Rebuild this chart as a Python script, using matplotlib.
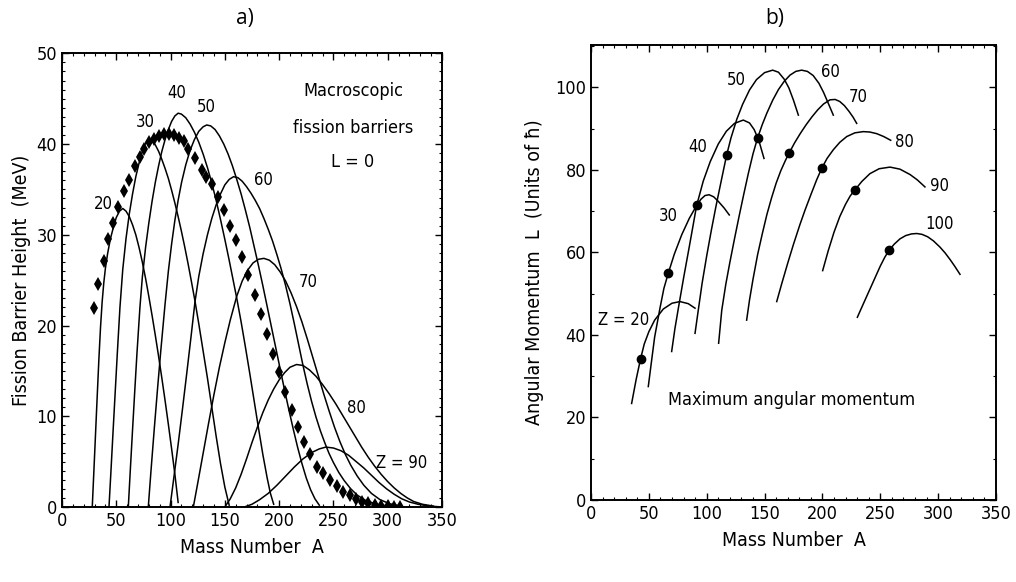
import matplotlib
matplotlib.use("Agg")
import matplotlib.pyplot as plt
from matplotlib.ticker import MultipleLocator
from matplotlib import font_manager

# ---------------- data: panel a) macroscopic fission barriers (L = 0) ----------------
z20_A = [27.9, 30, 32, 34, 35.5, 37, 38.5, 40, 42, 44.5, 47.3, 50, 53, 56, 59, 62, 65, 68, 71, 74,
         77, 80, 83, 86, 89, 92, 95, 98, 101, 104, 107]
z20_B = [0, 5.6, 11.0, 16.3, 19.8, 22.6, 24.7, 26.3, 27.9, 29.5, 30.8, 31.9, 32.6, 32.9, 32.6, 32.0,
         31.1, 30.0, 28.6, 27.0, 25.2, 23.2, 21.1, 18.9, 16.6, 14.2, 11.7, 9.1, 6.4, 3.6, 0.5]

z30_A = [43.3, 45, 47, 49, 51, 53.4, 56, 59, 62, 65, 68, 71, 74, 77, 80, 83, 86, 89, 92, 95, 98,
         101, 104, 107, 110, 113, 116, 119, 122.5, 126, 130, 134, 138, 142, 146, 150, 154]
z30_B = [0, 3.7, 8.2, 12.6, 17.0, 22.0, 26.2, 29.6, 32.3, 34.5, 36.4, 37.9, 39.2, 40.1, 40.5, 40.4,
         39.9, 39.2, 38.3, 37.3, 36.2, 34.9, 33.5, 32.0, 30.4, 28.7, 26.9, 25.0, 22.7, 20.2, 17.2,
         14.2, 11.0, 7.8, 4.8, 2.2, 0.2]

z40_A = [61.1, 63, 65, 67, 69, 71.8, 74, 77, 80, 83, 86, 89, 92, 95, 98, 101, 104, 107, 110, 114,
         118, 122, 126, 130, 134, 138, 142, 146, 150, 154, 158, 161, 165, 169, 173, 177, 181, 185,
         189, 192, 195]
z40_B = [0, 4.2, 8.5, 12.7, 16.8, 22.0, 25.3, 28.6, 31.3, 33.7, 35.8, 37.6, 39.2, 40.5, 41.6, 42.5,
         43.1, 43.4, 43.3, 42.9, 42.2, 41.3, 40.2, 38.9, 37.4, 35.7, 33.8, 31.7, 29.5, 27.2, 24.8,
         23.0, 20.4, 17.6, 14.7, 11.7, 8.7, 5.8, 3.2, 1.5, 0.3]

z50_A = [79.5, 82, 85, 88, 91, 94.9, 98, 101, 104, 107, 110.2, 114, 118, 122, 126, 130, 133.3, 137,
         141, 145, 149, 153, 157, 161, 165, 169, 173, 177, 181, 185, 189, 193, 197, 201, 205, 209,
         213, 217, 221, 225, 229, 233, 237]
z50_B = [0, 4.0, 8.6, 13.0, 17.2, 22.3, 26.0, 29.0, 31.6, 33.8, 35.8, 37.7, 39.3, 40.5, 41.4, 41.9,
         42.1, 42.0, 41.6, 40.9, 40.0, 38.9, 37.6, 36.1, 34.5, 32.7, 30.8, 28.7, 26.6, 24.4, 22.1,
         19.8, 17.5, 15.2, 12.9, 10.7, 8.6, 6.6, 4.8, 3.2, 1.9, 0.9, 0.2]

z60_A = [99.5, 103, 107, 111, 115, 119, 122.5, 126, 130, 134, 138, 142, 146, 150, 154, 158, 162,
         166, 170, 174, 178, 182, 186, 190, 194, 198, 202, 206, 210, 214, 218, 222, 226, 230, 234,
         238, 242, 246, 250, 255, 260, 266, 272, 280, 290, 300]
z60_B = [0, 3.2, 6.9, 10.8, 14.8, 18.9, 22.6, 25.4, 27.9, 30.0, 31.8, 33.3, 34.5, 35.5, 36.1, 36.4,
         36.3, 35.9, 35.3, 34.6, 33.8, 32.9, 31.8, 30.6, 29.3, 27.8, 26.2, 24.4, 22.4, 20.2, 17.9,
         15.6, 13.5, 11.6, 9.9, 8.4, 7.1, 5.9, 4.9, 3.8, 2.9, 2.0, 1.3, 0.7, 0.3, 0.1]

z70_A = [121, 125, 130, 135, 140, 145, 150, 155, 160.9, 166, 171, 176, 181, 186, 191, 196, 201,
         206, 211, 216, 221, 226, 231, 236, 241, 246, 251, 256, 261, 266, 272, 278, 285, 293, 302, 312]
z70_B = [0, 2.6, 5.9, 9.2, 12.4, 15.4, 18.1, 20.6, 23.2, 24.9, 26.1, 26.9, 27.3, 27.4, 27.2, 26.7,
         25.9, 24.9, 23.6, 22.1, 20.4, 18.5, 16.5, 14.5, 12.5, 10.6, 8.8, 7.2, 5.8, 4.6, 3.4, 2.4,
         1.5, 0.8, 0.35, 0.1]

z80_A = [150, 155, 160, 165, 170, 175, 180, 185, 190, 195, 200, 205, 210, 216, 222, 228, 234, 240,
         246, 252, 258, 264, 270, 276, 282, 288, 294, 300, 306, 312, 318, 324, 332, 342]
z80_B = [0, 0.9, 2.1, 3.6, 5.3, 7.1, 8.8, 10.4, 11.8, 13.0, 14.0, 14.8, 15.4, 15.7, 15.6, 15.1,
         14.4, 13.5, 12.5, 11.4, 10.2, 9.0, 7.8, 6.6, 5.5, 4.5, 3.6, 2.8, 2.1, 1.5, 1.0, 0.6, 0.3, 0.1]

z90_A = [168, 175, 182, 190, 198, 206, 214, 222, 230, 237, 243, 250, 257, 264, 271, 278, 285, 292,
         299, 306, 313, 320, 328, 338, 348]
z90_B = [0, 0.3, 0.8, 1.5, 2.4, 3.4, 4.4, 5.3, 6.0, 6.4, 6.6, 6.5, 6.2, 5.7, 5.0, 4.3, 3.5, 2.7,
         2.0, 1.4, 0.9, 0.55, 0.3, 0.1, 0.02]

barrier_curves = {20: (z20_A, z20_B), 30: (z30_A, z30_B), 40: (z40_A, z40_B),
                  50: (z50_A, z50_B), 60: (z60_A, z60_B), 70: (z70_A, z70_B),
                  80: (z80_A, z80_B), 90: (z90_A, z90_B)}

diam_A = [29.5, 33.4, 38.4, 42.6, 47.4, 52, 57, 62, 67, 71.5, 76, 80.5, 85, 89.5, 94, 98.5, 103, 107.5,
          112, 116.3, 122.5, 128.7, 133, 137.9, 144, 149.5, 154.7, 160.3, 166, 171.6, 177.5, 183, 188.5,
          194.6, 200.2, 205.4, 211.6, 217.7, 223.2, 228.4, 234.6, 240, 246.5, 253, 259, 265, 271,
          276.5, 282, 288, 294, 300, 306, 311]
diam_B = [21.9, 24.6, 27.1, 29.5, 31.3, 33.1, 34.8, 36.0, 37.6, 38.6, 39.5, 40.2, 40.6, 40.9, 41.1, 41.1,
          41.0, 40.7, 40.3, 39.5, 38.5, 37.1, 36.4, 35.6, 34.2, 32.7, 31.0, 29.4, 27.6, 25.6, 23.4, 21.3,
          19.1, 16.9, 14.9, 12.7, 10.7, 8.8, 7.2, 5.8, 4.4, 3.7, 3.0, 2.3, 1.7, 1.3, 0.9, 0.6, 0.4,
          0.25, 0.15, 0.1, 0.05, 0.03]

# ---------------- data: panel b) maximum angular momentum ----------------
l20_A = [35.1, 39, 42.9, 46, 50, 55, 62.5, 70, 76.9, 84, 89.9]
l20_L = [23.4, 29.2, 34.3, 37.8, 40.8, 43.6, 46.3, 47.7, 48.1, 47.6, 46.5]
l30_A = [49.5, 52, 55, 59.6, 63, 66.8, 72, 78.4, 85, 91.3, 95, 98.5, 102, 106, 110, 115, 119.5]
l30_L = [27.5, 33, 39.5, 46.5, 51.3, 55, 59.6, 64.3, 68.3, 71.4, 72.9, 73.8, 74.0, 73.5, 72.4, 70.8, 69.1]
l40_A = [69.7, 72.5, 75.5, 80, 85, 91.3, 97, 103, 110, 117, 124, 131.6, 137, 141, 145, 149.5]
l40_L = [36, 41.5, 46.5, 53.8, 61.5, 71.4, 77.3, 82, 86.3, 89.4, 91.3, 92.1, 91.4, 89.8, 87.2, 82.8]
l50_A = [89.9, 92.7, 96, 100, 104, 108, 112.5, 117.2, 121, 126, 131, 137, 143, 150, 157, 162, 167,
         171, 175, 179.2]
l50_L = [40.4, 46, 52.5, 59.2, 65.4, 71.2, 77.3, 83.6, 87.8, 92.3, 95.9, 99.4, 101.9, 103.6, 104.2,
         103.7, 102.0, 99.9, 96.9, 93.3]
l60_A = [110.3, 113, 116.5, 120, 124, 128, 132, 136, 140, 144, 148, 152, 157, 162, 167, 172, 177,
         182, 187, 192, 197, 201, 205, 209.4]
l60_L = [38, 46, 52.3, 57.6, 63.3, 68.8, 74.1, 79.2, 83.9, 87.8, 91.0, 93.8, 96.9, 99.5, 101.5, 103.0,
         103.9, 104.2, 103.9, 102.9, 101.0, 98.8, 96.2, 93.3]
l70_A = [134.5, 137, 140, 144, 148, 152, 156, 160, 164, 168, 171.4, 176, 181, 186, 191, 196, 201,
         206.5, 211, 215, 219, 223, 226.5, 229.6]
l70_L = [43.6, 48.5, 53.5, 59.5, 64.5, 69.2, 73.2, 76.8, 79.8, 82.3, 84.2, 86.6, 88.9, 91.0, 92.9,
         94.6, 96.0, 97.0, 97.1, 96.6, 95.6, 94.2, 92.8, 91.3]
l80_A = [160.5, 165, 170, 175, 180.6, 185, 190, 195, 199.4, 204, 209.4, 215, 221, 228, 235.3, 241,
         247, 253, 259]
l80_L = [48.1, 52.6, 57.4, 62.0, 66.8, 70.3, 74.0, 77.6, 80.4, 82.8, 84.9, 86.7, 88.1, 89.0, 89.3,
         89.2, 88.8, 88.1, 87.2]
l90_A = [200.2, 205, 210, 215, 220, 224, 228.2, 234, 241, 249, 258.4, 267, 275.7, 282, 288.6]
l90_L = [55.6, 60.4, 64.9, 68.7, 71.7, 73.7, 75.2, 77.2, 79.1, 80.3, 80.7, 80.2, 78.9, 77.6, 75.9]
l100_A = [230.2, 234, 238, 242, 246, 250, 254, 257.8, 262, 267, 272, 277, 281.5, 286, 291, 296,
          301.6, 306, 310.3, 314.5, 318.9]
l100_L = [44.3, 46.7, 49.2, 51.7, 54.2, 56.7, 58.9, 60.6, 62.0, 63.3, 64.1, 64.5, 64.6, 64.4, 63.8,
          62.8, 61.3, 59.9, 58.3, 56.6, 54.7]

lmax_curves = [(l20_A, l20_L), (l30_A, l30_L), (l40_A, l40_L), (l50_A, l50_L), (l60_A, l60_L),
               (l70_A, l70_L), (l80_A, l80_L), (l90_A, l90_L), (l100_A, l100_L)]

dot_A = [42.9, 66.8, 91.3, 117.2, 144.0, 171.4, 199.4, 228.2, 257.8]
dot_L = [34.3, 55.0, 71.4, 83.6, 87.8, 84.2, 80.4, 75.2, 60.6]

# labels
a_labels = ["20", "30", "40", "50", "60", "70", "80", "Z = 90"]
a_label_pos = [(38, 33.4), (76.4, 42.4), (105.6, 45.6), (133.3, 44.1), (185.4, 36.0),
               (226.9, 24.8), (271.4, 10.9), (312.9, 4.8)]
b_labels = ["Z = 20", "30", "40", "50", "60", "70", "80", "90", "100"]
b_label_pos = [(28, 43.6), (66.8, 68.8), (91.9, 85.5), (126, 101.8), (206.6, 103.8),
               (230.8, 97.8), (271, 86.9), (301.6, 76), (301.6, 67)]

# ---------------- fonts: prefer a condensed sans if one is installed ----------------
fam = ['Liberation Sans', 'DejaVu Sans']
stretch = 'normal'
names = {f.name for f in font_manager.fontManager.ttflist}
if 'Liberation Sans Narrow' in names:
    fam = ['Liberation Sans Narrow', 'DejaVu Sans']
elif any(f.name == 'DejaVu Sans' and str(f.stretch) in ('condensed', 'semi-condensed')
         for f in font_manager.fontManager.ttflist):
    fam = ['DejaVu Sans']
    stretch = 'condensed'
plt.rcParams['font.family'] = fam
plt.rcParams['font.stretch'] = stretch

fig = plt.figure(figsize=(10.16, 5.82), dpi=100)

axa = fig.add_axes([0.0610, 0.1289, 0.3740, 0.7795])
axb = fig.add_axes([0.5817, 0.1409, 0.3986, 0.7818])

lw = 1.1
for z, (xa, yb) in barrier_curves.items():
    axa.plot(xa, yb, color='black', lw=lw)
axa.plot(diam_A, diam_B, linestyle='none', marker='d', markersize=7.5, color='black',
         markeredgewidth=0)
for t, (x, y) in zip(a_labels, a_label_pos):
    axa.text(x, y, t, fontsize=12, ha='center', va='center')
axa.text(268, 45.9, "Macroscopic", fontsize=13, ha='center', va='center')
axa.text(268, 41.8, "fission barriers", fontsize=13, ha='center', va='center')
axa.text(268, 38.0, "L = 0", fontsize=13, ha='center', va='center')

axa.set_xlim(0, 350)
axa.set_ylim(0, 50)
axa.xaxis.set_major_locator(MultipleLocator(50))
axa.xaxis.set_minor_locator(MultipleLocator(10))
axa.yaxis.set_major_locator(MultipleLocator(10))
axa.yaxis.set_minor_locator(MultipleLocator(1))
axa.set_xlabel("Mass Number  A", fontsize=14, labelpad=6)
axa.set_ylabel("Fission Barrier Height  (MeV)", fontsize=14, labelpad=4)

for xa, yl in lmax_curves:
    axb.plot(xa, yl, color='black', lw=lw)
axb.plot(dot_A, dot_L, linestyle='none', marker='o', markersize=6, color='black')
for t, (x, y) in zip(b_labels, b_label_pos):
    axb.text(x, y, t, fontsize=12, ha='center', va='center')
axb.text(173.5, 24.2, "Maximum angular momentum", fontsize=13, ha='center', va='center')

axb.set_xlim(0, 350)
axb.set_ylim(0, 110.3)
axb.xaxis.set_major_locator(MultipleLocator(50))
axb.xaxis.set_minor_locator(MultipleLocator(10))
axb.yaxis.set_major_locator(MultipleLocator(20))
axb.yaxis.set_minor_locator(MultipleLocator(10))
axb.set_xlabel("Mass Number  A", fontsize=14, labelpad=6)
axb.set_ylabel("Angular Momentum  L  (Units of ħ)", fontsize=14, labelpad=8)

for ax in (axa, axb):
    for s in ax.spines.values():
        s.set_linewidth(1.4)
    ax.tick_params(which='both', direction='in', top=True, right=True, labelsize=13)
    ax.tick_params(which='major', length=5, width=1)
    ax.tick_params(which='minor', length=2.5, width=0.8)

fig.text(0.241, 0.968, "a)", fontsize=15, ha='center', va='center', family=['Open Sans', 'DejaVu Sans'],
         stretch='normal')
fig.text(0.763, 0.968, "b)", fontsize=15, ha='center', va='center', family=['Open Sans', 'DejaVu Sans'],
         stretch='normal')

fig.savefig("out.png", dpi=100)
